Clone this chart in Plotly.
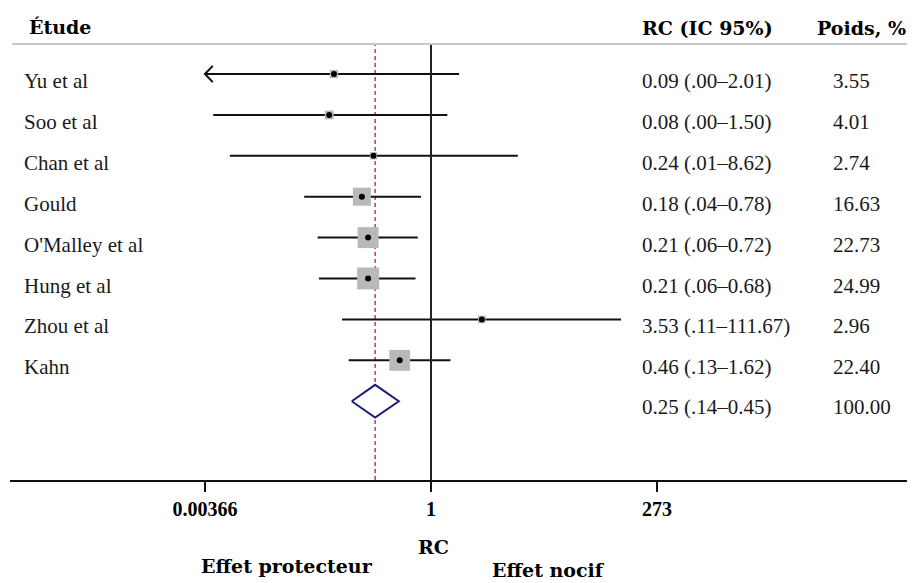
import math
import plotly.graph_objects as go

# ---------------- data ----------------
studies = ["Yu et al", "Soo et al", "Chan et al", "Gould", "O'Malley et al",
           "Hung et al", "Zhou et al", "Kahn"]
odds_ratio = [0.09, 0.08, 0.24, 0.18, 0.21, 0.21, 3.53, 0.46]
ci_low = [0.001, 0.0045, 0.0068, 0.043, 0.06, 0.062, 0.11, 0.13]
ci_high = [2.01, 1.50, 8.62, 0.78, 0.72, 0.68, 111.67, 1.62]
weights = [3.55, 4.01, 2.74, 16.63, 22.73, 24.99, 2.96, 22.40]
ci_text = ["0.09 (.00–2.01)", "0.08 (.00–1.50)", "0.24 (.01–8.62)",
           "0.18 (.04–0.78)", "0.21 (.06–0.72)", "0.21 (.06–0.68)",
           "3.53 (.11–111.67)", "0.46 (.13–1.62)"]
weight_text = ["3.55", "4.01", "2.74", "16.63", "22.73", "24.99", "2.96", "22.40"]

overall_or = 0.25
overall_low = 0.14
overall_high = 0.45
overall_text = "0.25 (.14–0.45)"
overall_weight_text = "100.00"

tick_vals = [0.00366, 1, 273]
tick_text = ["0.00366", "1", "273"]

# ---------------- layout helpers ----------------
# page body has an 8px margin, so the figure is offset by 8px in the window
OFF = 8
W, H = 915 - OFF, 583 - OFF
ML, MR, MT, MB = 10 - OFF, 0, 44 - OFF, 583 - 480
PW = W - ML - MR
PH = H - MT - MB


def px(xpix):
    """reference-window pixel x -> paper coordinate"""
    return (xpix - OFF - ML) / PW


def py(ypix):
    """reference-window pixel y -> paper coordinate"""
    return (480 - ypix) / PH


rows = list(range(1, len(studies) + 1))
overall_row = len(studies) + 1
clip_lo = tick_vals[0]

fig = go.Figure()

# confidence interval lines
for i, r in enumerate(rows):
    lo = max(ci_low[i], clip_lo)
    fig.add_trace(go.Scatter(x=[lo, ci_high[i]], y=[r, r], mode="lines",
                             line=dict(color="#111111", width=2),
                             hoverinfo="skip", showlegend=False))
    if ci_low[i] < clip_lo:
        back = 10 ** (math.log10(clip_lo) + 0.085)
        fig.add_trace(go.Scatter(x=[back, clip_lo, back], y=[r - 0.2, r, r + 0.2],
                                 mode="lines", line=dict(color="#111111", width=2),
                                 hoverinfo="skip", showlegend=False))

# weight squares
fig.add_trace(go.Scatter(
    x=odds_ratio, y=rows, mode="markers",
    marker=dict(symbol="square", color="#b9b9b9", opacity=1,
                size=[4.4 * math.sqrt(w) for w in weights], line=dict(width=0)),
    hoverinfo="skip", showlegend=False))
# point estimates
fig.add_trace(go.Scatter(
    x=odds_ratio, y=rows, mode="markers",
    marker=dict(symbol="circle", color="#000000", size=6),
    hoverinfo="skip", showlegend=False))

# overall diamond
fig.add_trace(go.Scatter(
    x=[overall_low, overall_or, overall_high, overall_or, overall_low],
    y=[overall_row, overall_row - 0.4, overall_row, overall_row + 0.4, overall_row],
    mode="lines", fill="toself", fillcolor="white",
    line=dict(color="#1c1f7a", width=2),
    hoverinfo="skip", showlegend=False))

# y range: top edge at header line, bottom at axis line
row_px0, row_gap = 74, 40.9
y_top = 1 - (row_px0 - 44) / row_gap
y_bot = 1 + (480 - row_px0) / row_gap

shapes = [
    # pooled estimate dashed line
    dict(type="line", xref="x", yref="paper", x0=overall_or, x1=overall_or, y0=0, y1=1,
         line=dict(color="#b8404e", width=1.5, dash="4px,3px"), layer="below"),
    # vertical line of no effect
    dict(type="line", xref="x", yref="paper", x0=1, x1=1, y0=0, y1=1,
         line=dict(color="#222222", width=2)),
    # header separator
    dict(type="line", xref="paper", yref="paper", x0=px(12), x1=1, y0=1, y1=1,
         line=dict(color="#c8c8c8", width=2)),
]

ann = []
row_font = dict(family="Liberation Serif, Times New Roman, serif", size=21, color="#1a1a1a")
for i, r in enumerate(rows):
    ann.append(dict(x=px(22), y=r, xref="paper", yref="y", text=studies[i],
                    showarrow=False, xanchor="left", yanchor="middle",
                    yshift=-7, font=row_font))
    ann.append(dict(x=px(640), y=r, xref="paper", yref="y", text=ci_text[i],
                    showarrow=False, xanchor="left", yanchor="middle",
                    yshift=-7, font=row_font))
    ann.append(dict(x=px(831), y=r, xref="paper", yref="y", text=weight_text[i],
                    showarrow=False, xanchor="left", yanchor="middle",
                    yshift=-7, font=row_font))
ann.append(dict(x=px(640), y=overall_row, xref="paper", yref="y", text=overall_text,
                showarrow=False, xanchor="left", yanchor="middle", yshift=-6, font=row_font))
ann.append(dict(x=px(831), y=overall_row, xref="paper", yref="y", text=overall_weight_text,
                showarrow=False, xanchor="left", yanchor="middle", yshift=-6, font=row_font))

head_font = dict(family="DejaVu Serif, serif", size=19, color="#000000", weight="bold")
ann.append(dict(x=px(27), y=py(27), xref="paper", yref="paper", text="Étude",
                showarrow=False, xanchor="left", yanchor="middle", font=head_font))
ann.append(dict(x=px(640), y=py(28), xref="paper", yref="paper", text="RC (IC 95%)",
                showarrow=False, xanchor="left", yanchor="middle", font=head_font))
ann.append(dict(x=px(815), y=py(28), xref="paper", yref="paper", text="Poids, %",
                showarrow=False, xanchor="left", yanchor="middle", font=head_font))

bot_font = dict(family="DejaVu Serif, serif", size=19, color="#000000", weight="bold")
ann.append(dict(x=px(433), y=py(547), xref="paper", yref="paper", text="RC",
                showarrow=False, xanchor="center", yanchor="middle", font=bot_font))
ann.append(dict(x=px(287), y=py(566), xref="paper", yref="paper", text="Effet protecteur",
                showarrow=False, xanchor="center", yanchor="middle", font=bot_font))
ann.append(dict(x=px(548), y=py(570), xref="paper", yref="paper", text="Effet nocif",
                showarrow=False, xanchor="center", yanchor="middle", font=bot_font))

scale = 92.8
x_min = (10 - 431) / scale
x_max = (915 - 431) / scale

fig.update_layout(
    width=W, height=H,
    margin=dict(l=ML, r=MR, t=MT, b=MB, pad=0),
    paper_bgcolor="white", plot_bgcolor="white",
    shapes=shapes, annotations=ann,
    xaxis=dict(type="log", range=[x_min, x_max], tickvals=tick_vals, ticktext=tick_text,
               ticks="outside", ticklen=10, tickwidth=2, tickcolor="#111111",
               showline=True, linecolor="#111111", linewidth=2,
               showgrid=False, zeroline=False,
               tickfont=dict(family="Liberation Serif, serif", size=20, color="#000000",
                             weight="bold")),
    yaxis=dict(range=[y_bot, y_top], visible=False, showgrid=False, zeroline=False),
)

fig.write_html("out.html")
